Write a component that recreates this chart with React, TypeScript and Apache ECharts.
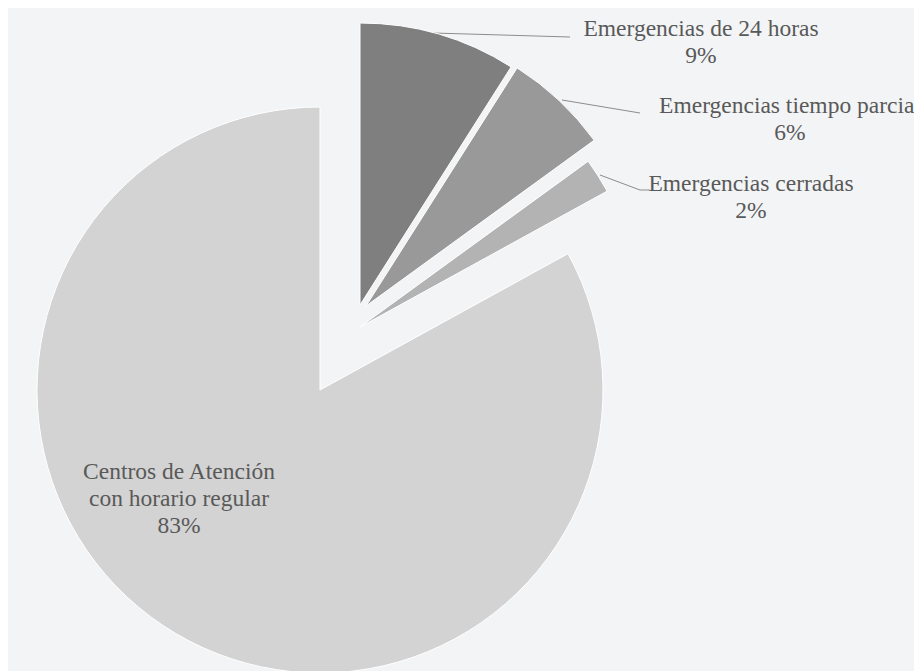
import React, { useEffect, useRef } from "react";
import * as echarts from "echarts";

// ---- data ----
const CATEGORIES: string[] = [
  "Emergencias de 24 horas",
  "Emergencias tiempo parcial",
  "Emergencias cerradas",
  "Centros de Atención\ncon horario regular",
];
const VALUES: number[] = [9, 6, 2, 83];

// ---- styles / layout ----
const COLORS = ["#7f7f7f", "#999999", "#b3b3b3", "#d3d3d3"];
const SLICE_CENTERS: [number, number][] = [
  [352, 297],
  [358, 298],
  [352, 319],
  [312, 382],
];
const SLICE_RADII = [282, 282, 282, 283];
const LABEL_POS: [number, number][] = [
  [693, 33.5],
  [782, 110.5],
  [743, 188.5],
  [171, 490],
];
const LABEL_LINES: number[][][] = [
  [
    [425, 25],
    [562, 29],
  ],
  [
    [554, 92],
    [632, 105],
  ],
  [
    [592, 167],
    [632, 182],
    [642, 182],
  ],
  [],
];

export default function App() {
  const ref = useRef<HTMLDivElement>(null);
  useEffect(() => {
    if (!ref.current) return;
    const chart = echarts.init(ref.current, undefined, { renderer: "svg" });
    const series = VALUES.map((_, i) => ({
      type: "pie",
      silent: true,
      center: SLICE_CENTERS[i],
      radius: [0, SLICE_RADII[i]],
      startAngle: 90,
      clockwise: true,
      avoidLabelOverlap: false,
      label: {
        position: i === 3 ? "inside" : "outside",
        formatter: (p: any) => `${p.name}\n${p.value}%`,
        fontFamily: "Liberation Serif",
        fontSize: 23.5,
        lineHeight: 27,
        color: "#595959",
        align: "center",
        overflow: "none",
      },
      labelLine: {
        show: true,
        lineStyle: { color: "#8c8c8c", width: 1 },
      },
      labelLayout: (p: any) => {
        if (p.dataIndex !== i) return {};
        const out: any = {
          x: LABEL_POS[i][0],
          y: LABEL_POS[i][1],
          align: "center",
          verticalAlign: "middle",
        };
        if (LABEL_LINES[i].length) out.labelLinePoints = LABEL_LINES[i];
        return out;
      },
      data: VALUES.map((v, j) => ({
        name: CATEGORIES[j],
        value: v,
        itemStyle:
          j === i
            ? { color: COLORS[j], borderColor: "#ffffff", borderWidth: 1 }
            : { color: "rgba(0,0,0,0)", borderWidth: 0 },
        label: { show: j === i },
        labelLine: { show: j === i && j !== 3 },
      })),
    }));
    chart.setOption({
      animation: false,
      backgroundColor: "#f3f4f6",
      series,
    } as any);
    return () => chart.dispose();
  }, []);
  return (
    <div
      ref={ref}
      style={{
        position: "fixed",
        left: 8,
        top: 8,
        width: 906,
        height: 663,
        overflow: "hidden",
      }}
    />
  );
}
